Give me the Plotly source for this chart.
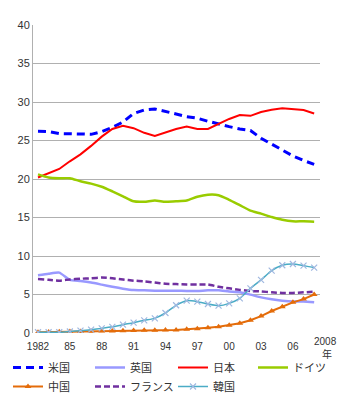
import plotly.graph_objects as go

years = list(range(1982, 2009))
us = [26.2, 26.15, 25.9, 25.9, 25.85, 25.8, 26.15, 26.7, 27.4, 28.5, 28.96, 29.1, 28.8, 28.45,
      28.1, 27.9, 27.5, 27.1, 26.8, 26.5, 26.3, 25.3, 24.5, 23.7, 23.0, 22.4, 21.9]
uk = [7.5, 7.7, 7.84, 6.9, 6.75, 6.55, 6.28, 6.0, 5.76, 5.58, 5.55, 5.5, 5.5, 5.5,
      5.45, 5.45, 5.55, 5.55, 5.4, 5.3, 4.98, 4.63, 4.37, 4.2, 4.1, 4.1, 4.0]
japan = [20.2, 20.7, 21.3, 22.3, 23.2, 24.3, 25.5, 26.5, 26.9, 26.6, 26.0, 25.6, 26.1, 26.5,
         26.8, 26.5, 26.5, 27.2, 27.8, 28.3, 28.2, 28.7, 29.0, 29.2, 29.1, 28.96, 28.5]
germany = [20.6, 20.2, 20.1, 20.1, 19.7, 19.4, 19.0, 18.4, 17.75, 17.1, 17.05, 17.2, 17.05, 17.1,
           17.2, 17.7, 17.96, 17.9, 17.3, 16.6, 15.9, 15.5, 15.06, 14.7, 14.5, 14.5, 14.45]
china = [0.1, 0.12, 0.15, 0.18, 0.2, 0.22, 0.25, 0.27, 0.3, 0.32, 0.35, 0.37, 0.39, 0.4,
         0.48, 0.56, 0.69, 0.82, 1.0, 1.26, 1.65, 2.2, 2.86, 3.42, 3.98, 4.4, 5.0]
france = [7.0, 6.9, 6.8, 6.95, 7.05, 7.1, 7.2, 7.1, 6.95, 6.8, 6.7, 6.55, 6.4, 6.35,
          6.3, 6.3, 6.3, 6.0, 5.8, 5.6, 5.45, 5.4, 5.28, 5.2, 5.2, 5.28, 5.37]
korea = [0.1, 0.1, 0.1, 0.2, 0.3, 0.43, 0.6, 0.8, 1.08, 1.34, 1.65, 1.9, 2.6, 3.6,
         4.2, 4.07, 3.77, 3.55, 3.85, 4.5, 5.8, 6.9, 8.1, 8.8, 8.96, 8.75, 8.5]

tick_vals = [1982, 1985, 1988, 1991, 1994, 1997, 2000, 2003, 2006]
tick_text = ["1982", "85", "88", "91", "94", "97", "00", "03", "06"]
y_ticks = [0, 5, 10, 15, 20, 25, 30, 35, 40]

fig = go.Figure()
fig.add_trace(go.Scatter(x=years, y=us, name="米国", mode="lines", legend="legend",
                         line=dict(color="#0000FF", width=3, dash="8px,5px")))
fig.add_trace(go.Scatter(x=years, y=uk, name="英国", mode="lines", legend="legend2",
                         line=dict(color="#9999FF", width=2.5, shape="spline", smoothing=0.5)))
fig.add_trace(go.Scatter(x=years, y=japan, name="日本", mode="lines", legend="legend3",
                         line=dict(color="#FF0000", width=2)))
fig.add_trace(go.Scatter(x=years, y=germany, name="ドイツ", mode="lines", legend="legend4",
                         line=dict(color="#99CC00", width=2.5, shape="spline", smoothing=0.6)))
fig.add_trace(go.Scatter(x=years, y=china, name="中国", mode="lines+markers", legend="legend",
                         line=dict(color="#E46C0A", width=2),
                         marker=dict(symbol="triangle-up", size=6, color="#E46C0A")))
fig.add_trace(go.Scatter(x=years, y=france, name="フランス", mode="lines", legend="legend2",
                         line=dict(color="#7030A0", width=2.5, dash="6px,3px", shape="spline", smoothing=0.5)))
fig.add_trace(go.Scatter(x=years, y=korea, name="韓国", mode="lines+markers", legend="legend3",
                         line=dict(color="#4BACC6", width=1.5, shape="spline", smoothing=0.6),
                         marker=dict(symbol="x-thin", size=6, line=dict(color="#A0B8E0", width=1.2))))

fig.add_annotation(x=2008, y=0, xref="x", yref="y", text="2008", showarrow=False,
                   xanchor="center", yanchor="middle", xshift=11, yshift=-8, borderpad=0,
                   font=dict(size=10, color="#333333", family="Liberation Sans, Arial"))
fig.add_annotation(x=2008, y=0, xref="x", yref="y", text="年", showarrow=False,
                   xanchor="center", yanchor="middle", xshift=13, yshift=-20, borderpad=0,
                   font=dict(size=10, color="#333333", family="Noto Sans CJK JP"))

def leg(xpx):
    return dict(orientation="v", xref="container", yref="container",
                x=xpx / 350, xanchor="left", y=0.1086, yanchor="top",
                traceorder="normal", tracegroupgap=0, itemwidth=30,
                font=dict(size=11, family="Noto Sans CJK JP", color="#333333"),
                bgcolor="rgba(0,0,0,0)")

fig.update_layout(
    width=350, height=396,
    margin=dict(l=33, r=30, t=25, b=63, autoexpand=False),
    paper_bgcolor="white", plot_bgcolor="white",
    font=dict(family="Liberation Sans, Noto Sans CJK JP, Arial", size=11, color="#333333"),
    xaxis=dict(range=[1981.53, 2008.55], tickvals=tick_vals, ticktext=tick_text,
               showgrid=False, zeroline=False, showline=False, ticks="outside", ticklen=4,
               tickcolor="rgba(0,0,0,0)", automargin=False,
               tickfont=dict(size=10, color="#333333")),
    yaxis=dict(range=[0, 40], tickvals=y_ticks, showgrid=True, gridcolor="#B0B0B0", gridwidth=1,
               zeroline=False, showline=True, linecolor="#B0B0B0", linewidth=1, ticks="",
               automargin=False, tickfont=dict(size=11, color="#333333")),
    showlegend=True,
    legend=leg(8), legend2=leg(90), legend3=leg(173), legend4=leg(253),
)

fig.write_html("out.html")
